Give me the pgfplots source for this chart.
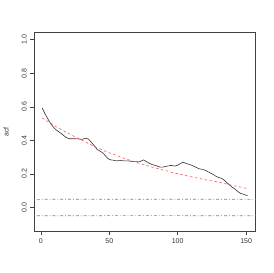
\documentclass[border=0pt]{standalone}
\usepackage{fontspec}
\setmainfont{Liberation Sans}
\usepackage{pgfplots}
\pgfplotsset{compat=1.18}
\definecolor{refblue}{RGB}{110,110,255}
\definecolor{refred}{RGB}{255,80,80}
\begin{document}
\begin{tikzpicture}
\useasboundingbox (-34pt,-41.3pt) rectangle (239pt,231.7pt);
\begin{axis}[
  at={(0pt,0pt)}, anchor=south west,
  scale only axis, width=221.7pt, height=199.4pt,
  xmin=-5, xmax=157, ymin=-0.144, ymax=1.044,
  xtick={0,50,100,150}, ytick={0,0.2,0.4,0.6,0.8,1.0},
  xtick pos=bottom, ytick pos=left, tick align=outside,
  major tick length=3.7pt,
  axis line style={black!75, line width=0.6pt},
  tick style={black!75, line width=0.5pt},
  /pgf/number format/assume math mode=true,
  ticklabel style={font=\fontsize{7}{8}\selectfont, text=black!80},
  yticklabel style={rotate=90, anchor=south, /pgf/number format/.cd, fixed, fixed zerofill, precision=1},
  xticklabel style={anchor=north},
  ylabel={acf}, ylabel style={font=\fontsize{7}{8}\selectfont, text=black!80, at={(axis description cs:-0.126,0.5)}, anchor=center},
  clip=true,
]
\addplot[refblue, mark=none, line width=0.6pt, dash pattern=on 0.8pt off 2pt on 3pt off 2pt] coordinates {(-5,0.049)(76,0.0495)(157,0.049)};
\addplot[refblue, mark=none, line width=0.6pt, dash pattern=on 0.8pt off 2pt on 3pt off 2pt] coordinates {(-5,-0.049)(76,-0.0485)(157,-0.049)};
\addplot[color=black!80, mark=none, line width=0.6pt] coordinates {
(1,0.593)(3,0.560)(5,0.530)(7,0.503)(9,0.480)(11,0.464)(13,0.452)(15,0.440)
(17,0.427)(19,0.415)(21,0.410)(24,0.410)(27,0.409)(30,0.406)(32,0.411)(33,0.413)
(35,0.406)(37,0.388)(39,0.368)(41,0.347)(43,0.337)(45,0.327)(47,0.310)(49,0.292)
(51,0.284)(53,0.282)(55,0.278)(58,0.280)(61,0.278)(64,0.278)(67,0.274)(70,0.273)
(72,0.272)(74,0.280)(75,0.284)(77,0.274)(79,0.265)(81,0.257)(83,0.252)(85,0.247)
(87,0.241)(89,0.241)(92,0.246)(95,0.251)(98,0.247)(100,0.252)(102,0.262)(104,0.270)
(106,0.263)(108,0.258)(110,0.253)(112,0.245)(114,0.237)(116,0.230)(118,0.228)
(120,0.222)(122,0.214)(124,0.205)(126,0.197)(128,0.186)(130,0.179)(132,0.174)
(134,0.163)(136,0.148)(138,0.133)(140,0.120)(142,0.109)(144,0.095)(146,0.084)
(148,0.080)(150,0.073)(151,0.071)
};
\addplot[color=refred, mark=none, line width=0.6pt, dash pattern=on 2.5pt off 2.5pt] coordinates {
(1,0.534)(10,0.487)(20,0.442)(30,0.401)(40,0.360)(50,0.326)(60,0.296)(70,0.268)
(80,0.244)(90,0.222)(100,0.201)(110,0.183)(120,0.166)(130,0.151)(140,0.132)(151,0.113)
};
\end{axis}
\end{tikzpicture}
\end{document}
